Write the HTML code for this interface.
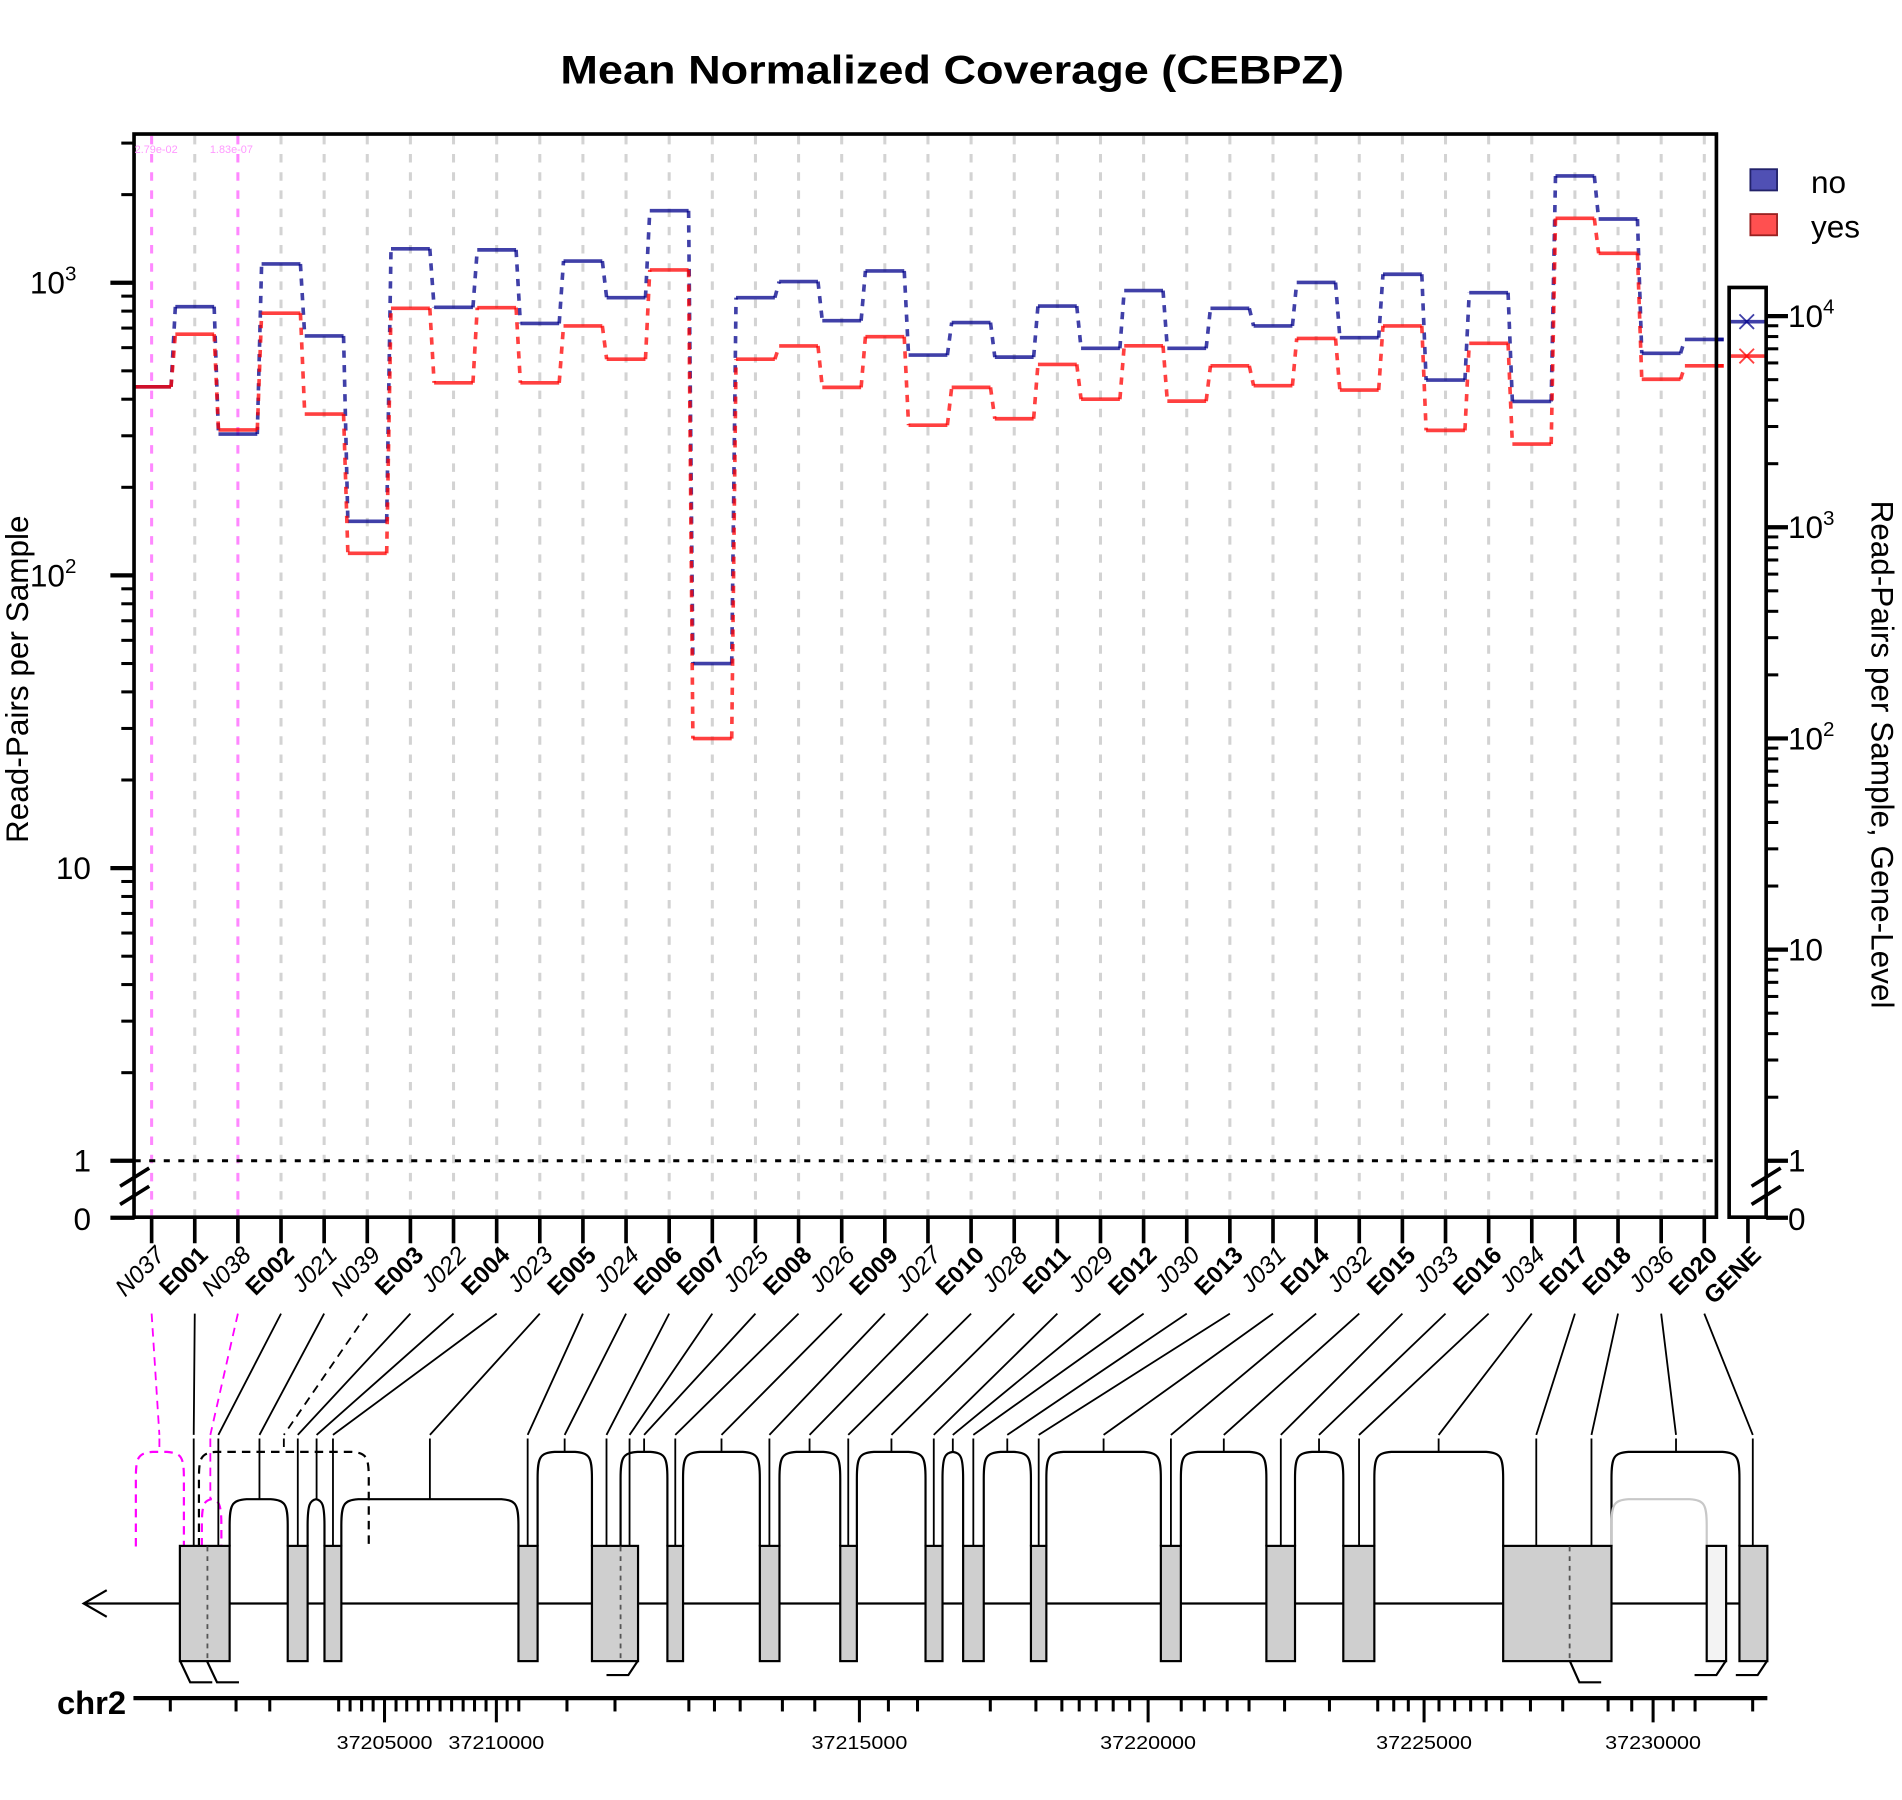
<!DOCTYPE html>
<html><head><meta charset="utf-8"><style>
html,body{margin:0;padding:0;background:#fff;}
svg{display:block;font-family:"Liberation Sans",Arial,sans-serif;}
</style></head><body>
<svg id="chart" width="1902" height="1800" viewBox="0 0 1568 1484" preserveAspectRatio="none" xmlns="http://www.w3.org/2000/svg">
<text x="785" y="69" text-anchor="middle" font-size="33" font-weight="bold" textLength="646" lengthAdjust="spacingAndGlyphs">Mean Normalized Coverage (CEBPZ)</text>
<g id="grid"></g>
<g id="series"></g>
<line x1="111" y1="957" x2="1415" y2="957" stroke="#000" stroke-width="2.5" stroke-dasharray="5,7"/>
<rect x="110.5" y="110.5" width="1304.5" height="893" fill="none" stroke="#000" stroke-width="3"/>
<rect x="1425.5" y="237" width="30.5" height="766.5" fill="none" stroke="#000" stroke-width="3"/>
<g id="axes"></g>
<text transform="translate(23,560) rotate(-90)" text-anchor="middle" font-size="26">Read-Pairs per Sample</text>
<text transform="translate(1543,622) rotate(90)" text-anchor="middle" font-size="26">Read-Pairs per Sample, Gene-Level</text>
<g>
<rect x="1443" y="139.5" width="22" height="17.5" fill="#5050B4" stroke="#22226A" stroke-width="1.5"/>
<text x="1493" y="159" font-size="26">no</text>
<rect x="1443" y="176.5" width="22" height="17.5" fill="#FF5050" stroke="#992020" stroke-width="1.5"/>
<text x="1493" y="196" font-size="26">yes</text>
</g>
<text x="111" y="126" font-size="9" fill="#FF99FF">2.79e-02</text>
<text x="173" y="126" font-size="9" fill="#FF99FF">1.83e-07</text>
<g id="labels"></g>
<g id="gene"></g>
<text x="104" y="1413" text-anchor="end" font-size="27" font-weight="bold">chr2</text>
</svg>
<script>
const categories = ['N037','E001','N038','E002','J021','N039','E003','J022','E004','J023','E005','J024','E006','E007','J025','E008','J026','E009','J027','E010','J028','E011','J029','E012','J030','E013','J031','E014','J032','E015','J033','E016','J034','E017','E018','J036','E020'];
const noValues = [441,828,304,1159,658,153,1306,824,1295,726,1186,889,1762,50,889,1009,742,1097,566,731,557,832,597,940,597,818,712,1002,649,1069,465,925,393,2316,1651,574,640];
const yesValues = [441,667,314,787,356,119,818,455,822,455,712,548,1106,27.7,548,608,439,654,326,439,343,526,400,609,394,520,445,645,430,712,313,621,281,1660,1261,468,520];
const geneLevelValues = [9410,6470];
const leftTickLabels = ['1','10','10^2','10^3'];
const rightTickLabels = ['1','10','10^2','10^3','10^4'];
const chrTickLabels = ['37205000','37210000','37215000','37220000','37225000','37230000'];

const NS='http://www.w3.org/2000/svg';
function mk(tag, attrs, parent){const e=document.createElementNS(NS,tag);for(const k in attrs)e.setAttribute(k,attrs[k]);parent.appendChild(e);return e;}
const X0=125, DX=35.556;
function xCol(i){return X0+i*DX;}
function yLeft(v){return 957-241.3*Math.log10(v);}
function yRight(v){return 957-174.1*Math.log10(v);}
const grid=document.getElementById('grid'), series=document.getElementById('series'), axes=document.getElementById('axes'), labels=document.getElementById('labels'), gene=document.getElementById('gene');

// vertical grid
categories.forEach((c,i)=>{
  const mag = (c==='N037'||c==='N038');
  const l=mk('line',{x1:xCol(i),y1:112,x2:xCol(i),y2:1002,stroke:mag?'#FF88FF':'#D3D3D3','stroke-width':2.5,'stroke-dasharray':'7,8'},grid);
  
  
});

function drawSeries(vals,color,name){
  vals.forEach((v,i)=>{
    const x=xCol(i), y=yLeft(v);
    const x1=Math.max(111,x-16);
    const s=mk('line',{x1:x1,y1:y,x2:x+16,y2:y,stroke:color,'stroke-width':3,'stroke-opacity':0.75},series);
    
    
    if(i<vals.length-1){
      const y2=yLeft(vals[i+1]);
      const d=mk('line',{x1:x+16,y1:y,x2:xCol(i+1)-16,y2:y2,stroke:color,'stroke-width':3,'stroke-opacity':0.75,'stroke-dasharray':'6,6'},series);
      
      
    }
  });
  const last=vals.length-1;
  const t=mk('line',{x1:xCol(last)+16,y1:yLeft(vals[last]),x2:1414,y2:yLeft(vals[last]),stroke:color,'stroke-width':3,'stroke-opacity':0.75},series);
  
  
}
drawSeries(noValues,'#00008B','no');
drawSeries(yesValues,'#FF0000','yes');

// gene level markers
[['#00008B','no'],['#FF0000','yes']].forEach((p,k)=>{
  const y=yRight(geneLevelValues[k]);
  const g=mk('g',{},series);
  
  
  mk('line',{x1:1427,y1:y,x2:1455,y2:y,stroke:p[0],'stroke-width':3,'stroke-opacity':0.75},g);
  mk('path',{d:`M1434 ${y-6}L1446 ${y+6}M1434 ${y+6}L1446 ${y-6}`,stroke:p[0],'stroke-width':1.5,'stroke-opacity':0.75,fill:'none'},g);
});

function supLabel(parent,x,y,lab,anchor,name){
  const t=mk('text',{x:x,y:y,'font-size':26,'text-anchor':anchor},parent);
  
  
  if(lab.indexOf('^')>0){
    const [b,e]=lab.split('^');
    const s1=mk('tspan',{},t); s1.textContent=b;
    const s2=mk('tspan',{dy:-11,'font-size':17},t); s2.textContent=e;
  } else t.textContent=lab;
}
// left axis
for(let d=0;d<=3;d++){
  for(let m=1;m<=9;m++){
    const v=m*Math.pow(10,d); const y=yLeft(v); if(y<111)continue;
    const tk=mk('line',{x1:m===1?91:100,y1:y,x2:111,y2:y,stroke:'#000','stroke-width':m===1?3.5:2.5},axes);
    
    
  }
}
leftTickLabels.forEach((lab,d)=>{supLabel(axes,lab.length>2?63:75,yLeft(Math.pow(10,d))+9,lab,'end','left-tick-label');});
const z0=mk('line',{x1:91,y1:1004,x2:111,y2:1004,stroke:'#000','stroke-width':3.5},axes);


supLabel(axes,75,1014,'0','end','left-zero-label');
// right axis
for(let d=0;d<=4;d++){
  for(let m=1;m<=9;m++){
    const v=m*Math.pow(10,d); const y=yRight(v); if(y<238)continue;
    const tk=mk('line',{x1:1456,y1:y,x2:m===1?1474:1466,y2:y,stroke:'#000','stroke-width':m===1?3.5:2.5},axes);
    
    
  }
}
rightTickLabels.forEach((lab,d)=>{supLabel(axes,1474,yRight(Math.pow(10,d))+9,lab,'start','right-tick-label');});
const z1=mk('line',{x1:1456,y1:1004,x2:1474,y2:1004,stroke:'#000','stroke-width':3.5},axes);


supLabel(axes,1474,1014,'0','start','right-zero-label');
// breaks
[[111],[1456]].forEach((p,k)=>{
  const b=mk('path',{d:`M${p[0]-12} ${978}L${p[0]+12} ${963}M${p[0]-12} ${993}L${p[0]+12} ${978}`,stroke:'#000','stroke-width':3,fill:'none'},axes);
  
  
});

// bottom labels
const allLabels=categories.concat(['GENE']);
allLabels.forEach((c,i)=>{
  const x= i<categories.length? xCol(i):1441;
  const tk=mk('line',{x1:x,y1:1004,x2:x,y2:1025,stroke:'#000','stroke-width':3},labels);
  
  
  const bold=(c[0]==='E'||c==='GENE');
  const t=mk('text',{transform:`translate(${x+12},1036) rotate(-45)`,'text-anchor':'end','font-size':20,'font-weight':bold?'bold':'normal','font-style':bold?'normal':'italic'},labels);
  t.textContent=c;
  
  
});

// gene diagram (layout)
const exonLayout=[[148.3,189.3,171],[237.2,253.6],[267.5,281.4],[427.4,443.2],[488,526,511.6],[550.2,563.1],[626.4,642.6],[692.7,706.4],[763,777],[794,811],[849.9,862.6],[957,973.5],[1044,1067.6],[1107.4,1133],[1239.2,1328.5,1294],[1407,1423,null,'#F3F3F3'],[1434,1457]];
const arcLayout=[[112,151.6,1197,'#FF00FF',1],[166.4,182.5,1236,'#FF00FF',1],[164,304,1197,'#000',1],[189.3,237.2,1236],[253.6,267.5,1236],[281.4,427.4,1236],[443.2,488,1197],[511.6,550.2,1197],[563.1,626.4,1197],[642.6,692.7,1197],[706.4,763,1197],[777,794,1197],[811,849.9,1197],[862.6,957,1197],[973.5,1044,1197],[1067.6,1107.4,1197],[1133,1239.2,1197],[1328.5,1434,1197],[1328.5,1407,1236,'#C8C8C8']];
const linkTargets=[[131.4,1197,'#FF00FF',1],[159.7,1275],[173.4,1236,'#FF00FF',1],[180,1275],[213.9,1236],[234,1197,'#000',1],[245.5,1275],[261,1236],[274.5,1275],[354.4,1236],[435,1275],[465.5,1197],[500,1275],[519,1275],[531,1197],[556.7,1275],[594.8,1197],[634.3,1275],[667.4,1197],[699.3,1275],[734.9,1197],[769.8,1275],[785.5,1197],[802.4,1275],[830.4,1197],[856.3,1275],[909.8,1197],[965.3,1275],[1008.9,1197],[1055.9,1275],[1087.4,1197],[1120.4,1275],[1186,1197],[1266.5,1275],[1312,1275],[1381.7,1197],[1445,1275]];

const tr=mk('line',{x1:69,y1:1322,x2:1457,y2:1322,stroke:'#000','stroke-width':1.8},gene);


const ar=mk('path',{d:'M88 1311L69 1322L88 1333',stroke:'#000','stroke-width':1.8,fill:'none'},gene);



arcLayout.forEach((a,k)=>{
  const [x1,x2,top,col,dash]=a;
  const w=x2-x1, rx=Math.min(14,w/2), ry=22;
  const bottom = (k===2)?1275:1275;
  const d=`M${x1} ${bottom}V${top+ry}C${x1} ${top+4} ${x1+2} ${top+1} ${x1+rx} ${top}L${x2-rx} ${top}C${x2-2} ${top+1} ${x2} ${top+4} ${x2} ${top+ry}V${bottom}`;
  const p=mk('path',{d:d,fill:'none',stroke:col||'#000','stroke-width':1.8},gene);
  if(dash)p.setAttribute('stroke-dasharray','7,5');
  
  
});
exonLayout.forEach((e,k)=>{
  const r=mk('rect',{x:e[0],y:1274.5,width:e[1]-e[0],height:95,fill:e[3]||'#CFCFCF',stroke:'#000','stroke-width':1.8},gene);
  
  
  if(e[2]){
    const dl=mk('line',{x1:e[2],y1:1275,x2:e[2],y2:1369,stroke:'#555','stroke-width':1.5,'stroke-dasharray':'4,4'},gene);
    
    
  }
});
const hooks=['M148.3 1369L156.8 1387H175','M170.4 1369L178.9 1387H197','M526 1369L518 1381H500','M1294 1369L1302 1387H1320','M1423 1369L1415 1381H1397','M1457 1369L1449 1381H1431'];
hooks.forEach((h,k)=>{
  const p=mk('path',{d:h,fill:'none',stroke:'#000','stroke-width':1.8},gene);
  
  
});
linkTargets.forEach((t,i)=>{
  const [tx,ty,col,dash]=t;
  const p=mk('path',{d:`M${xCol(i)} 1083L${tx} 1183M${tx} 1186V${ty}`,fill:'none',stroke:col||'#000','stroke-width':1.5},gene);
  if(dash)p.setAttribute('stroke-dasharray','7,5');
  
  
});

// chromosome axis
const ca=mk('line',{x1:110,y1:1400,x2:1457,y2:1400,stroke:'#000','stroke-width':3.5},gene);


const minorTickLayout=[140.4,194.6,222.4,279.2,288.6,298.1,307.6,326.5,335.3,344.8,353.3,362.8,372.3,381.8,391.2,400.7,418.1,427.7,467.4,507,567.9,589,610.2,645,671.7,732.4,756.4,816.4,854,875.4,889.7,903.7,917.7,931.3,973.8,992.8,1011.7,1029.7,1059,1096,1135.8,1149,1161,1186.3,1199.2,1212.4,1225.2,1238,1261.7,1288.3,1325.7,1345.2,1379.4,1397.4,1444.9];
const majorTickLayout=[317,409.2,708.5,946.5,1174,1362.8];
minorTickLayout.forEach(x=>{
  const l=mk('line',{x1:x,y1:1400,x2:x,y2:1411,stroke:'#000','stroke-width':2.5},gene);
  
  
});
majorTickLayout.forEach((x,k)=>{
  const l=mk('line',{x1:x,y1:1400,x2:x,y2:1420,stroke:'#000','stroke-width':2.5},gene);
  
  
  const t=mk('text',{x:x,y:1442,'text-anchor':'middle','font-size':15,textLength:79,lengthAdjust:'spacingAndGlyphs'},gene);
  t.textContent=chrTickLabels[k];
  
  
});
</script>
</body></html>
